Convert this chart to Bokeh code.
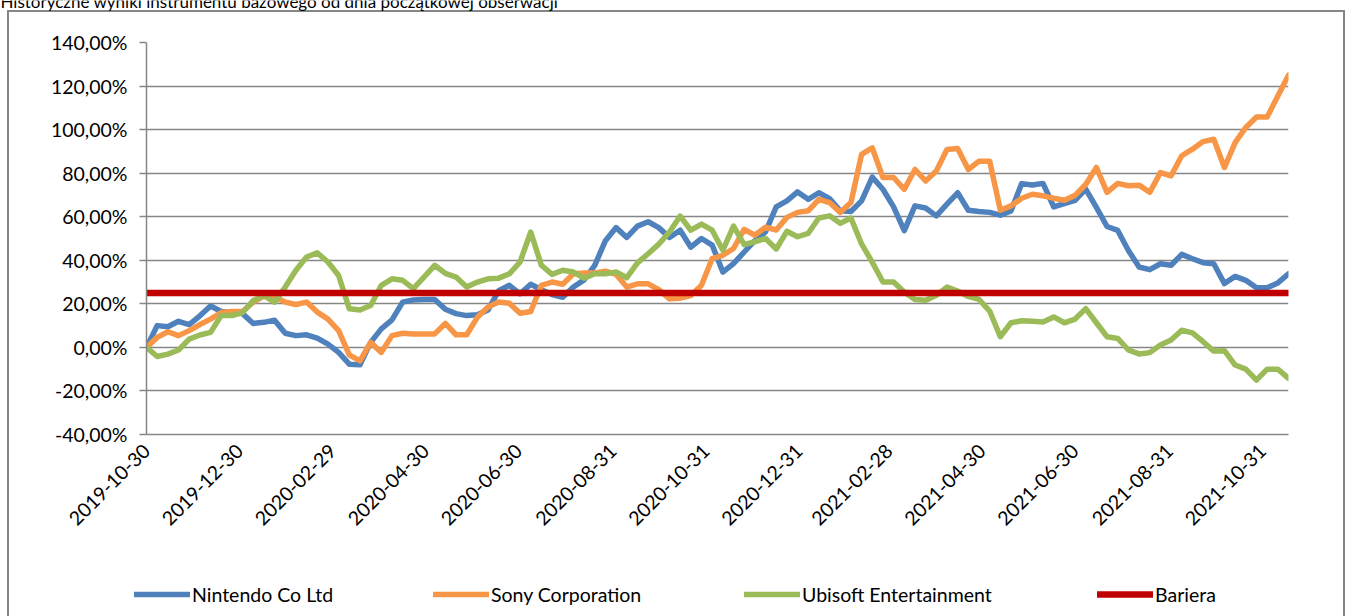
import math
import pandas as pd
from bokeh.plotting import figure
from bokeh.models import (FixedTicker, DatetimeTickFormatter, Legend, LegendItem,
                          Label, Range1d)
from bokeh.embed import file_html
from bokeh.resources import INLINE

title_text = "Historyczne wyniki instrumentu bazowego od dnia początkowej obserwacji"
start_date = "2019-10-30"
tick_dates = ["2019-10-30", "2019-12-30", "2020-02-29", "2020-04-30", "2020-06-30",
              "2020-08-31", "2020-10-31", "2020-12-31", "2021-02-28", "2021-04-30",
              "2021-06-30", "2021-08-31", "2021-10-31"]
y_ticks = [-40, -20, 0, 20, 40, 60, 80, 100, 120, 140]
y_tick_labels = ["-40,00%", "-20,00%", "0,00%", "20,00%", "40,00%", "60,00%",
                 "80,00%", "100,00%", "120,00%", "140,00%"]
series_names = ["Nintendo Co Ltd", "Sony Corporation", "Ubisoft Entertainment", "Bariera"]

nintendo = [0, 10, 9.5, 12, 10.5, 14.5, 19, 16.5, 16, 15.5,
            11, 11.5, 12.5, 6.5, 5.4, 5.8, 4.3, 1.5, -2.3, -7.7,
            -8, 2.3, 8.5, 12.6, 20.8, 21.8, 22, 22, 17.5, 15.5,
            14.6, 15, 17.2, 26, 28.5, 24.6, 29, 26.5, 24.3, 23,
            27.7, 31, 37.7, 49, 55, 50.5, 55.7, 57.7, 55, 50.5,
            53.8, 46, 50, 47, 34.6, 38.5, 43.8, 49, 53, 64.5,
            67.3, 71.4, 68, 71, 68.3, 62.7, 62.4, 67.3, 78.2, 72.6,
            64.5, 53.6, 65, 64, 60.4, 65.8, 71, 63, 62.4, 62,
            60.7, 62.7, 75.2, 74.6, 75.3, 64.5, 66, 67.5, 72.7, 64.3,
            55.5, 53.7, 44.5, 36.9, 35.7, 38.4, 37.7, 42.7, 40.7, 38.9,
            38.4, 29.3, 32.6, 30.8, 27.4, 27.4, 29.6, 33.8]

sony = [0, 4.6, 7.2, 5.4, 7.7, 10.5, 13, 16, 16.5, 16.5,
        20.8, 23.5, 23, 20.8, 19.7, 20.8, 16.2, 13, 7.7, -3.4,
        -6.2, 2.3, -2.3, 5.4, 6.5, 6.2, 6.2, 6.2, 11, 5.8,
        5.8, 13.8, 18.5, 20.8, 20.3, 15.7, 16.5, 28.5, 30, 29,
        33.8, 34.2, 34.2, 35, 33.5, 27.7, 29.2, 29.2, 26.5, 22.3,
        22.6, 23.8, 28.5, 40.8, 42.3, 45.4, 54.2, 51.5, 55.2, 53.9,
        59.7, 62, 62.7, 68, 66.5, 62, 66.5, 88.6, 91.6, 78,
        78, 72.6, 81.7, 76.4, 81, 90.9, 91.3, 81.7, 85.5, 85.5,
        63, 65, 68.5, 70.3, 69.6, 68.5, 67.6, 69.8, 74.8, 82.6,
        71.2, 75.3, 74.2, 74.5, 71.2, 80.3, 78.8, 88, 91, 94.5,
        95.6, 82.6, 94, 101, 105.8, 105.8, 115.4, 125]

ubisoft = [0, -4.2, -3.1, -1.2, 3.8, 5.7, 6.9, 14.6, 14.6, 16,
           21.5, 23.8, 20.8, 27.7, 35.4, 41.5, 43.4, 39.2, 33, 17.7,
           17.2, 19.2, 28.5, 31.5, 30.8, 27, 32.3, 37.7, 34, 32.3,
           27.7, 30, 31.5, 31.8, 33.8, 39.2, 53, 37.7, 33.5, 35.4,
           34.6, 31.8, 33.8, 33.8, 34.6, 32, 38.8, 43, 47.4, 53,
           60.3, 53.8, 56.6, 53.8, 44.6, 55.7, 47.2, 48.5, 50, 45.2,
           53.3, 50.8, 52.4, 59.4, 60.4, 57, 59.4, 47.5, 39.1, 30,
           30, 25.4, 22, 21.6, 23.9, 27.7, 25.9, 23.4, 22, 16.7,
           4.9, 11.3, 12.2, 12, 11.7, 14, 11.3, 13, 17.8, 11.3,
           4.9, 4.1, -1.2, -3, -2.4, 1.1, 3.4, 7.9, 6.7, 2.6,
           -1.7, -1.5, -8.1, -10, -15, -10, -10, -14.2]

barrier_level = 25

colors = ["#4F81BD", "#F79646", "#9BBB59", "#C00000"]
widths = [5.5, 5.5, 5.5, 6.5]
legend_x = [134, 433, 744, 1097]   # canvas x of each legend entry
FONT = "Lato"
GRAY = "#868686"
LABEL_SIZE = "19.5px"

dates = pd.date_range(start_date, periods=len(nintendo), freq="7D")
bariera = [barrier_level] * len(dates)

W, H = 1350, 616
L, R, T, B = 146, 62, 42, 182
pos = {"position": "absolute", "left": "0px", "top": "0px"}

# ---------- background canvas: outer frame, cut-off title, legend ----------
g = "linear-gradient(#868686, #868686)"
frame_css = ", ".join([
    f"{g} 7px 10px / 2px 620px no-repeat",
    f"{g} 1343px 10px / 2px 620px no-repeat",
    f"{g} 7px 10px / 1338px 2px no-repeat",
    "white",
])
bg = figure(width=W, height=H, output_backend="svg", toolbar_location=None,
            x_range=Range1d(0, W), y_range=Range1d(H, 0),
            x_axis_location=None, y_axis_location=None,
            min_border=0)
bg.styles = dict(pos, background=frame_css)
bg.grid.visible = False
bg.outline_line_color = None
bg.background_fill_alpha = 0
bg.border_fill_alpha = 0

# title, cut off by the top edge as in the source picture
title = Label(x=0, y=1, text=title_text, text_font=FONT, text_font_size="17px",
              text_baseline="alphabetic", text_color="#000000")
bg.add_layout(title)

ITEM_H = 24
LEG_TOP = 582     # canvas top of the legend row
nan = float("nan")
for name, c, w, lx in zip(series_names, colors, widths, legend_x):
    # legend key renderer (nothing to draw; only supplies the line style)
    key = bg.line(x=[nan], y=[nan], line_color=c, line_width=w, line_cap="round")
    leg = Legend(items=[LegendItem(label=name, renderers=[key])],
                 location=(lx, H - LEG_TOP - ITEM_H),
                 orientation="horizontal", glyph_width=56, glyph_height=ITEM_H,
                 label_height=ITEM_H, label_standoff=2, padding=0, margin=0, spacing=0,
                 border_line_color=None, background_fill_alpha=0,
                 label_text_font=FONT, label_text_font_size=LABEL_SIZE,
                 label_text_color="#000000")
    bg.add_layout(leg, "center")

# ---------- chart canvas ----------
p = figure(width=W, height=H, x_axis_type="datetime", output_backend="svg",
           toolbar_location=None,
           x_range=Range1d(dates[0], dates[-1]), y_range=Range1d(-40, 140))
p.styles = dict(pos)
p.min_border_left, p.min_border_right, p.min_border_top, p.min_border_bottom = L, R, T, B
p.outline_line_color = None
p.background_fill_color = "white"
p.border_fill_alpha = 0

p.xgrid.visible = False
p.ygrid.grid_line_color = GRAY
p.ygrid.grid_line_width = 1.5

p.yaxis.ticker = FixedTicker(ticks=y_ticks)
p.yaxis.major_label_overrides = dict(zip(y_ticks, y_tick_labels))
p.yaxis.axis_line_color = GRAY
p.yaxis.axis_line_width = 1.5
p.yaxis.major_tick_line_color = GRAY
p.yaxis.major_tick_line_width = 1.5
p.yaxis.major_tick_out = 7
p.yaxis.major_tick_in = 0
p.yaxis.minor_tick_line_color = None
p.yaxis.major_label_standoff = 12
p.yaxis.major_label_text_font = FONT
p.yaxis.major_label_text_font_size = LABEL_SIZE
p.yaxis.major_label_text_color = "#000000"

tick_ms = [pd.Timestamp(d).value / 1e6 for d in tick_dates]
p.xaxis.ticker = FixedTicker(ticks=tick_ms)
fmt = "%Y-%m-%d"
p.xaxis.formatter = DatetimeTickFormatter(microseconds=fmt, milliseconds=fmt, seconds=fmt,
                                          minsec=fmt, minutes=fmt, hourmin=fmt, hours=fmt,
                                          days=fmt, months=fmt, years=fmt)
p.xaxis.major_label_orientation = math.pi / 4
p.xaxis.axis_line_color = GRAY
p.xaxis.axis_line_width = 1.5
p.xaxis.major_tick_out = 0
p.xaxis.major_tick_in = 0
p.xaxis.minor_tick_line_color = None
p.xaxis.major_label_standoff = 13
p.xaxis.major_label_text_font = FONT
p.xaxis.major_label_text_font_size = LABEL_SIZE
p.xaxis.major_label_text_color = "#000000"

for ys, c, w in zip([nintendo, sony, ubisoft, bariera], colors, widths):
    p.line(dates, ys, line_color=c, line_width=w, line_join="round", line_cap="round")

open("out.html", "w").write(file_html([bg, p], INLINE))
